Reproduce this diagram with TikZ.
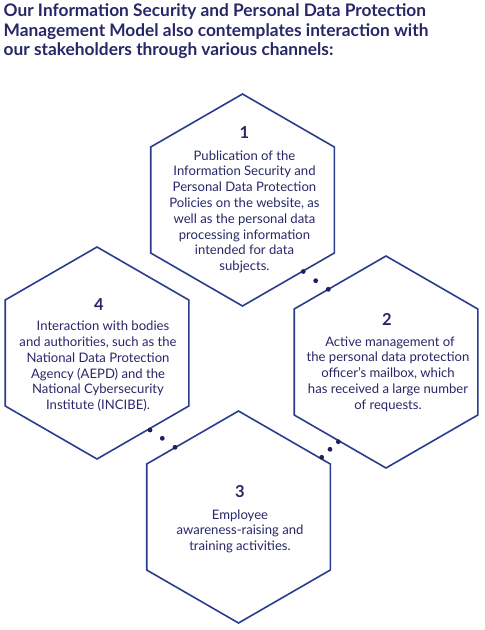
\documentclass[tikz,border=0pt]{standalone}
\usepackage{fontspec}
\setmainfont{Lato}
\definecolor{navy}{RGB}{39,39,104}
\definecolor{edgeblue}{RGB}{42,60,140}
\definecolor{dotnavy}{RGB}{32,32,94}
\tikzset{
  hex/.style={draw=edgeblue, line width=1.6pt, line join=miter},
  dotmark/.style={fill=dotnavy, draw=none},
  numlabel/.style={font=\bfseries\fontsize{16.5}{18}\selectfont, text=navy, inner sep=0pt},
  bodytext/.style={font=\fontsize{13.1}{15.8}\selectfont, text=navy, align=center, inner sep=0pt, anchor=base},
  heading/.style={font=\bfseries\fontsize{17.3}{19.3}\selectfont, text=navy, align=left, inner sep=0pt, anchor=base west}
}
\begin{document}
\begin{tikzpicture}[x=1pt,y=-1pt]
\useasboundingbox (0,0) rectangle (485,630);
\node[heading] (title) at (3.5,55.3) {Our Information Security and Personal Data Protection\\Management Model also contemplates interaction with\\our stakeholders through various channels:};
% hexagon centres
\coordinate (h1) at (242.5,200);
\coordinate (h2) at (386,362);
\coordinate (h3) at (238.5,517);
\coordinate (h4) at (97,353);
\foreach \c in {h1,h2,h3,h4}{
  \draw[hex] (\c) +(90:106) -- +(30:106) -- +(-30:106) -- +(-90:106) -- +(-150:106) -- +(150:106) -- cycle;
}
% numbers
\node[numlabel] (n1) at (244.5,132.5) {1};
\node[numlabel] (n2) at (387,319.5) {2};
\node[numlabel] (n3) at (240,491.5) {3};
\node[numlabel] (n4) at (99,304.5) {4};
% texts (anchor = baseline of last line)
\node[bodytext] (t1) at (244.5,270.6) {Publication of the\\Information Security and\\Personal Data Protection\\Policies on the website, as\\well as the personal data\\processing information\\intended for data\\subjects.};
\node[bodytext] (t2) at (388,409.2) {\hspace{4pt}Active management of\\the personal data protection\\officer’s mailbox, which\\has received a large number\\of requests.};
\node[bodytext] (t3) at (240,550.6) {Employee\\awareness-raising and\\training activities.};
\node[bodytext] (t4) at (98,409.7) {\hspace{10pt}Interaction with bodies\\and authorities, such as the\\National Data Protection\\Agency (AEPD) and the\\National Cybersecurity\\Institute (INCIBE).};
% dots
\foreach \p in {(303.3,271.5),(315.7,280.7),(328.3,289.3),(150,430),(162.3,438.3),(175,447.3),(321.7,457.3),(330,449.3),(338.3,441.7)}{
  \fill[dotmark] \p circle (2.4);
}
\end{tikzpicture}
\end{document}
